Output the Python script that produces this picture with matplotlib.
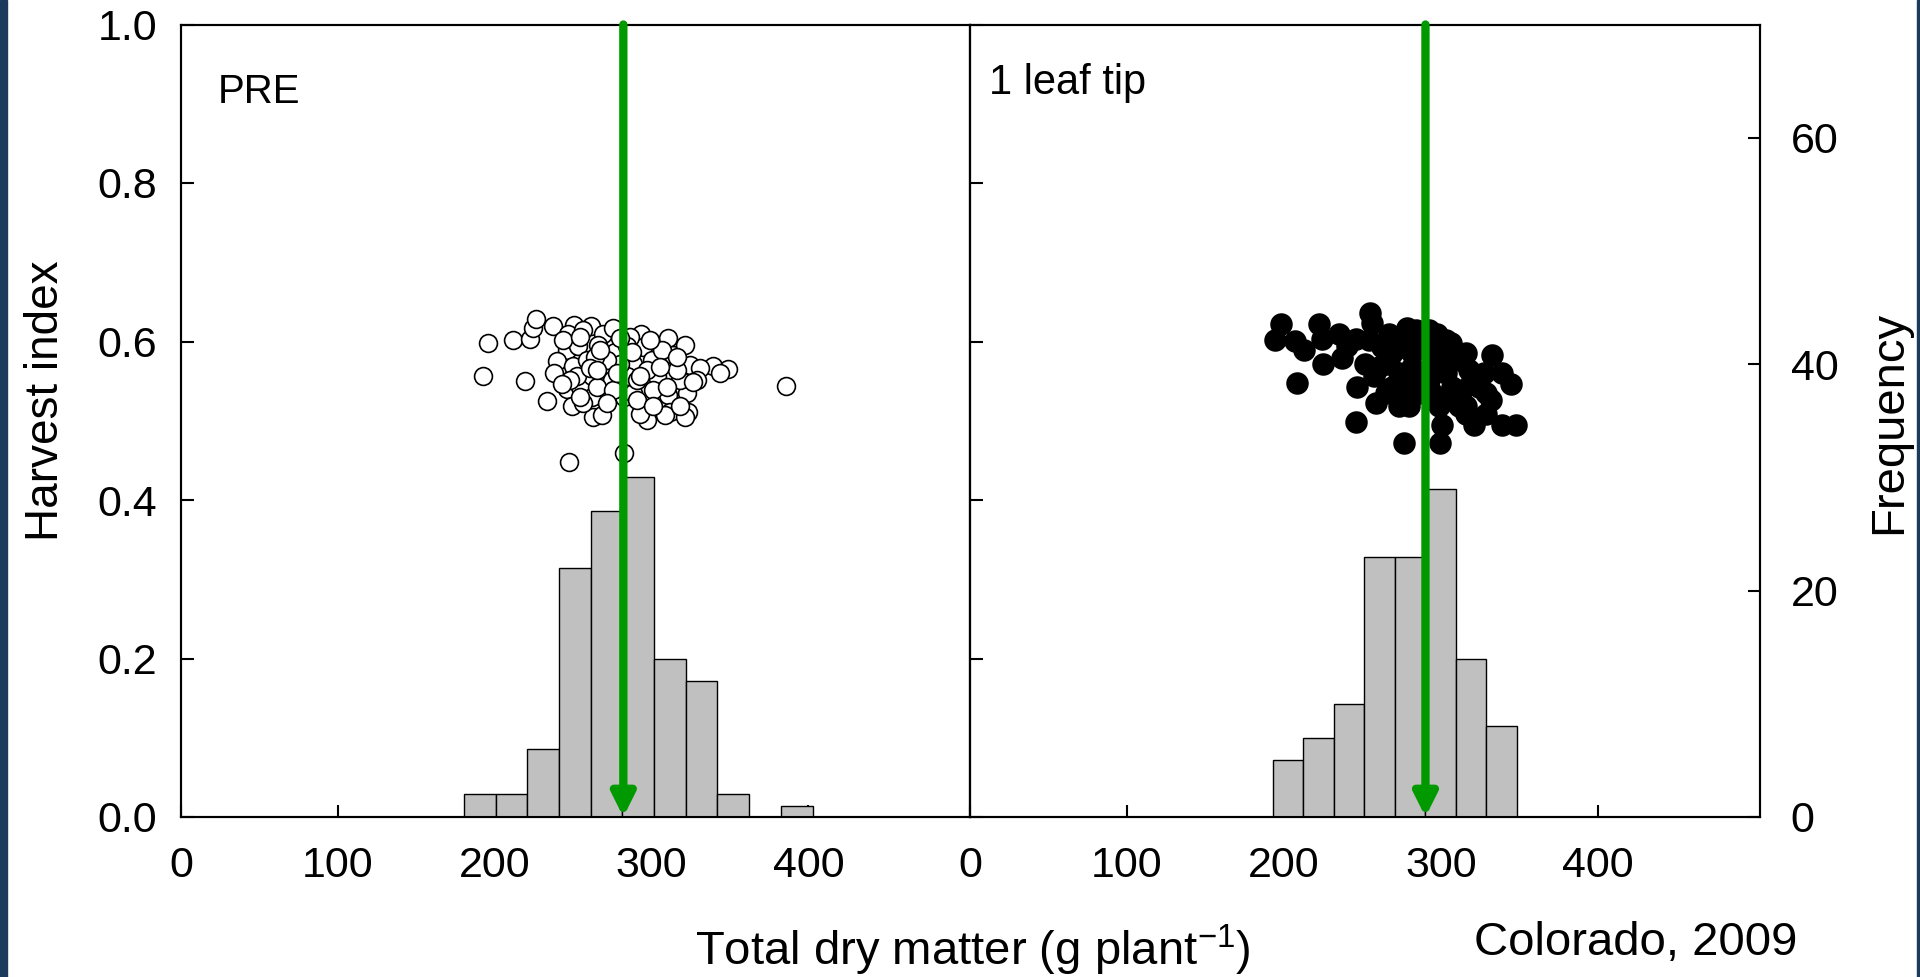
import matplotlib
matplotlib.use('Agg')
import numpy as np
import matplotlib.pyplot as plt
from matplotlib.patches import Rectangle

plt.rcParams['font.family'] = ['Liberation Sans', 'DejaVu Sans']
plt.rcParams['mathtext.default'] = 'regular'

# Histogram bin edges (g plant-1) and counts
pre_edges = [180.4, 200.6, 220.8, 241.0, 261.2, 281.4, 301.6, 321.8, 342.0, 362.2, 382.4, 402.6]
pre_counts = [2, 2, 6, 22, 27, 30, 14, 12, 2, 0, 1]
leaf_edges = [192.8, 212.2, 231.6, 251.0, 270.4, 289.8, 309.2, 328.6, 348.0]
leaf_counts = [5, 7, 10, 23, 23, 29, 14, 8]

# Mean total dry matter (green arrows)
pre_mean = 282
leaf_mean = 290

# Individual plants: total dry matter vs harvest index
pre_tdm = [195.9, 211.8, 222.5, 224.6, 226.3, 237.3, 192.7, 219.3, 233.1, 247.5,
           282.6, 250.5, 261.4, 246.9, 269.2, 275.2, 245.8, 253.3, 239.9, 250.1,
           258.6, 270.3, 276.7, 237.8, 246.3, 254.3, 261.8, 261.8, 249.0, 262.8,
           268.2, 271.4, 282.4, 288.4, 288.4, 293.2, 294.7, 300.0, 303.2, 310.7,
           313.9, 321.3, 324.5, 310.7, 322.4, 323.4, 311.7, 295.8, 296.9, 339.4,
           349.0, 343.6, 385.7, 284.1, 290.5, 318.1, 306.4, 286.2, 279.9, 266.0,
           256.5, 243.7, 292.6, 301.1, 274.5, 256.5, 330.9, 328.8, 316.0, 284.1,
           271.4, 263.9, 252.2, 296.9, 309.6, 321.3, 308.6, 265.0, 275.6, 290.5,
           254.3, 267.1, 260.7, 279.9, 287.3, 299.0, 305.4, 316.0, 248.0, 271.4,
           254.3, 301.1, 318.1, 277.7, 242.7, 326.6, 292.6, 265.0]
pre_hi = [0.598, 0.602, 0.603, 0.617, 0.628, 0.620, 0.556, 0.550, 0.525, 0.448,
          0.459, 0.621, 0.620, 0.609, 0.610, 0.617, 0.589, 0.594, 0.576, 0.569,
          0.577, 0.569, 0.587, 0.560, 0.540, 0.543, 0.556, 0.530, 0.518, 0.505,
          0.507, 0.539, 0.530, 0.535, 0.572, 0.609, 0.593, 0.577, 0.556, 0.604,
          0.583, 0.596, 0.570, 0.533, 0.535, 0.511, 0.511, 0.514, 0.501, 0.569,
          0.565, 0.560, 0.544, 0.556, 0.551, 0.551, 0.589, 0.606, 0.572, 0.596,
          0.615, 0.602, 0.509, 0.539, 0.551, 0.522, 0.566, 0.551, 0.564, 0.594,
          0.577, 0.581, 0.556, 0.564, 0.543, 0.505, 0.507, 0.543, 0.539, 0.526,
          0.606, 0.589, 0.566, 0.604, 0.587, 0.602, 0.568, 0.581, 0.551, 0.522,
          0.530, 0.518, 0.518, 0.560, 0.547, 0.549, 0.556, 0.564]

leaf_tdm = [194.0, 198.1, 207.2, 212.5, 208.3, 222.5, 224.2, 224.6, 234.8, 237.0,
            245.5, 251.8, 255.0, 256.1, 246.5, 245.5, 258.2, 257.2, 266.7, 268.9,
            273.1, 276.3, 278.4, 281.6, 277.3, 266.7, 285.9, 297.5, 302.9, 306.1,
            298.6, 298.6, 300.7, 299.0, 311.4, 317.7, 313.5, 315.6, 320.9, 332.6,
            331.6, 339.0, 344.3, 339.0, 347.5, 328.4, 292.2, 294.4, 285.9, 292.2,
            302.9, 307.1, 281.6, 273.1, 262.5, 254.0, 319.9, 324.1, 311.4, 305.0,
            285.9, 268.9, 260.3, 294.4, 275.2, 315.6, 240.1, 328.4, 292.2, 279.5,
            264.6, 304.0, 283.7, 296.5, 277.3, 315.6, 327.3]
leaf_hi = [0.602, 0.622, 0.601, 0.589, 0.548, 0.622, 0.603, 0.572, 0.610, 0.579,
           0.603, 0.572, 0.636, 0.623, 0.543, 0.499, 0.522, 0.556, 0.610, 0.543,
           0.518, 0.472, 0.617, 0.585, 0.535, 0.572, 0.551, 0.610, 0.602, 0.598,
           0.572, 0.518, 0.495, 0.472, 0.577, 0.564, 0.539, 0.518, 0.495, 0.583,
           0.526, 0.560, 0.547, 0.495, 0.495, 0.535, 0.589, 0.535, 0.602, 0.615,
           0.560, 0.543, 0.568, 0.560, 0.593, 0.602, 0.551, 0.543, 0.518, 0.526,
           0.535, 0.585, 0.568, 0.572, 0.593, 0.585, 0.594, 0.509, 0.551, 0.518,
           0.535, 0.581, 0.615, 0.593, 0.551, 0.509, 0.560]

x_ticks = [0, 100, 200, 300, 400]
hi_ticks = [0.0, 0.2, 0.4, 0.6, 0.8, 1.0]
freq_ticks = [0, 20, 40, 60]

green = '#009a00'
tick_size = 31
label_size = 34

fig = plt.figure(figsize=(19.2, 9.77), dpi=100)

# slide border bits
fig.add_artist(Rectangle((0, 0), 7 / 1920, 1, transform=fig.transFigure, color='#1b3a5c'))
fig.add_artist(Rectangle((1917 / 1920, 0), 3 / 1920, 1, transform=fig.transFigure, color='#1b3a5c'))

ax1 = fig.add_axes([181 / 1920, 160 / 977, 789 / 1920, 792.5 / 977])
ax2 = fig.add_axes([970 / 1920, 160 / 977, 790 / 1920, 792.5 / 977])

panels = [
    (ax1, pre_edges, pre_counts, pre_mean, pre_tdm, pre_hi, 'white', 'PRE', 0.046, 0.915, 165, 29),
    (ax2, leaf_edges, leaf_counts, leaf_mean, leaf_tdm, leaf_hi, 'black', '1 leaf tip', 0.024, 0.926, 225, 30),
]

for ax, edges, counts, mean, tdm, hi, face, name, tx, ty, s, nsize in panels:
    ax.set_xlim(0, 503)
    ax.set_ylim(0, 1)
    ax.scatter(tdm, hi, s=s, facecolor=face, edgecolor='black', linewidth=1.2, zorder=3)
    ax.text(tx, ty, name, transform=ax.transAxes, fontsize=nsize, ha='left', va='center')

    tw = ax.twinx()
    tw.set_ylim(0, 70)
    tw.bar(edges[:-1], counts, width=np.diff(edges), align='edge',
           color='#c0c0c0', edgecolor='black', linewidth=1.0)
    tw.annotate('', xy=(mean, 0), xytext=(mean, 70),
                arrowprops=dict(arrowstyle='-|>', color=green, lw=6,
                                mutation_scale=34, shrinkA=0, shrinkB=0))

    for a in (ax, tw):
        for sp in a.spines.values():
            sp.set_linewidth(1.5)

    ax.set_xticks(x_ticks)
    ax.set_yticks(hi_ticks)
    ax.tick_params(axis='both', direction='in', length=9, width=1.5,
                   labelsize=tick_size, top=False, right=False)
    ax.tick_params(axis='x', pad=21)
    ax.tick_params(axis='y', pad=17)
    if ax is ax1:
        tw.set_yticks([])
    else:
        tw.set_yticks(freq_ticks)
        tw.tick_params(axis='y', direction='in', length=9, width=1.5,
                       labelsize=tick_size, pad=22)

ax1.set_yticklabels(['%.1f' % v for v in hi_ticks])
ax2.set_yticklabels([])

fig.text(46 / 1920, 0.59, 'Harvest index', rotation=90, ha='center', va='center', fontsize=33)
fig.text(1889 / 1920, 0.568, 'Frequency', rotation=90, ha='center', va='center', fontsize=label_size)
fig.text(973 / 1920, 1 - 965 / 977, 'Total dry matter (g plant$^{-1}$)', ha='center', va='baseline',
         fontsize=label_size)
fig.text(1636 / 1920, 1 - 955 / 977, 'Colorado, 2009', ha='center', va='baseline', fontsize=label_size)

fig.savefig('out.png', dpi=100)
